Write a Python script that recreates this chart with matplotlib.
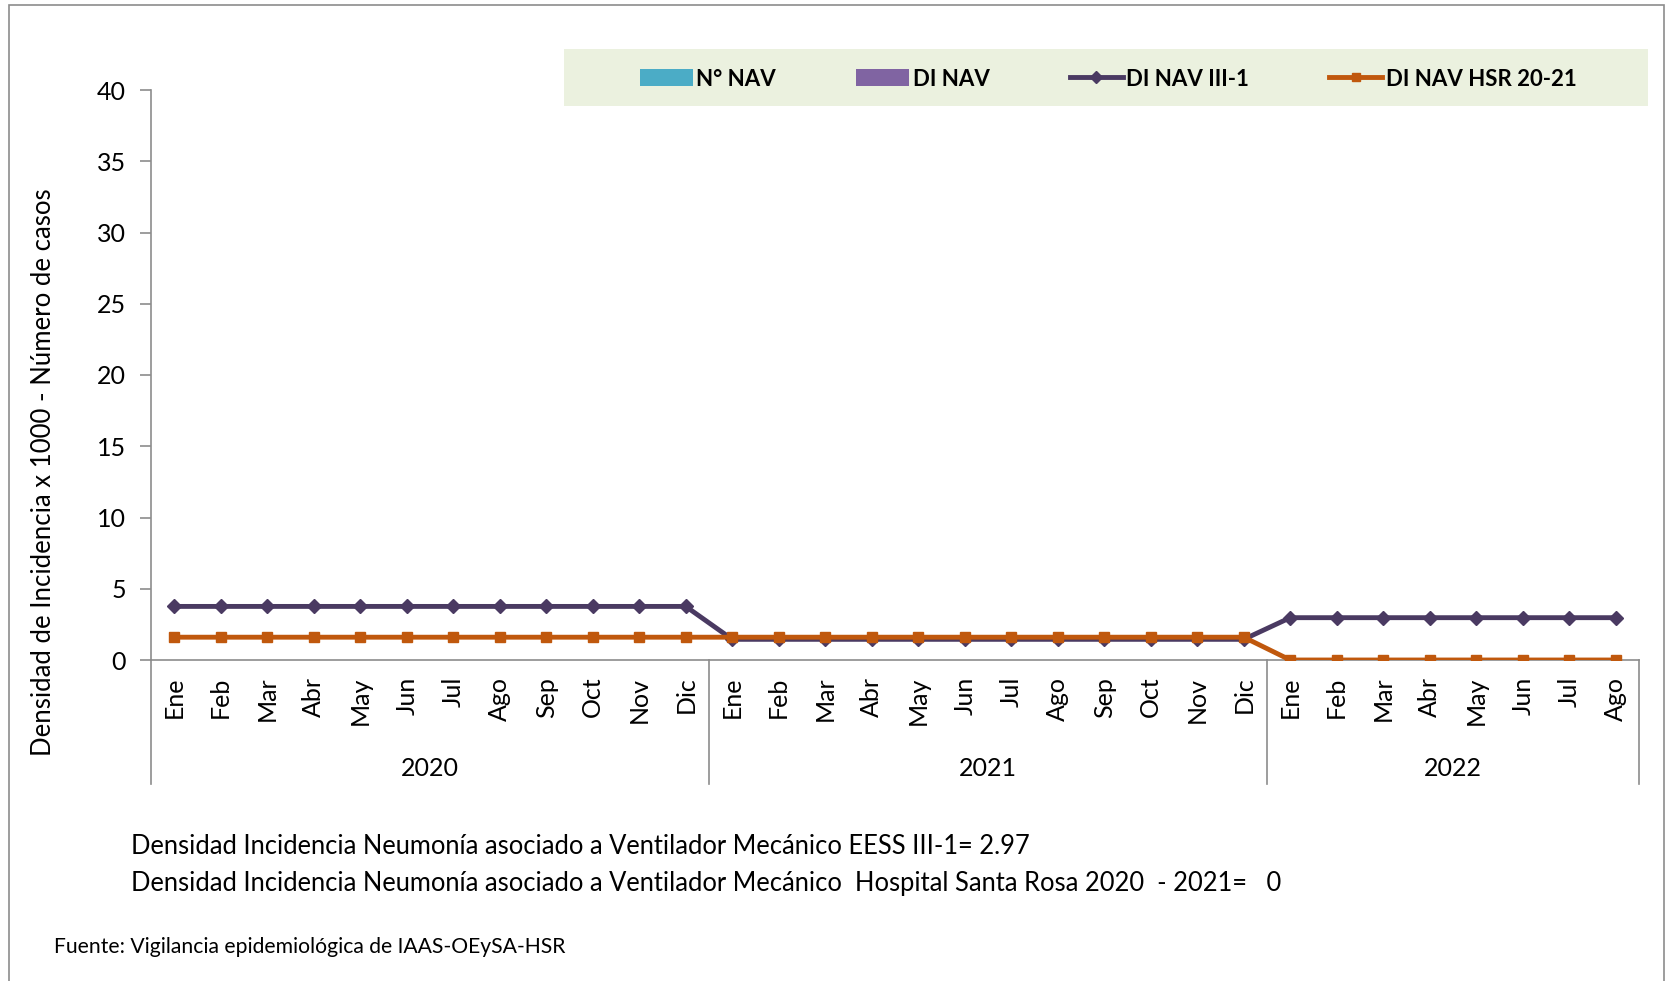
import numpy as np
import matplotlib.pyplot as plt
from matplotlib.patches import Rectangle, Patch
from matplotlib.lines import Line2D

plt.rcParams['font.family'] = ['Lato', 'DejaVu Sans']

# Data
meses = ['Ene', 'Feb', 'Mar', 'Abr', 'May', 'Jun', 'Jul', 'Ago', 'Sep', 'Oct', 'Nov', 'Dic',
         'Ene', 'Feb', 'Mar', 'Abr', 'May', 'Jun', 'Jul', 'Ago', 'Sep', 'Oct', 'Nov', 'Dic',
         'Ene', 'Feb', 'Mar', 'Abr', 'May', 'Jun', 'Jul', 'Ago']
anios = ['2020', '2021', '2022']
meses_por_anio = [12, 12, 8]
di_nav_iii1 = [3.76] * 12 + [1.45] * 12 + [2.97] * 8
di_nav_hsr = [1.6] * 12 + [1.6] * 12 + [0.0] * 8

W, H = 1680, 981
fig = plt.figure(figsize=(W / 100, H / 100), dpi=100)

# outer chart border
fig.patches.append(Rectangle((9 / W, -0.01), (1664 - 9) / W, 1 - 5 / H + 0.01,
                             transform=fig.transFigure, fill=False,
                             edgecolor='#8c8c8c', linewidth=1.2))

ax = fig.add_axes([151 / W, 1 - 660 / H, (1639 - 151) / W, (660 - 90) / H])
x = np.arange(len(meses))

purple = '#4a3a62'
orange = '#c0580d'
ax.plot(x, di_nav_iii1, color=purple, linewidth=3.5, marker='D', markersize=7.5, zorder=3)
ax.plot(x, di_nav_hsr, color=orange, linewidth=3.5, marker='s', markersize=7.5, zorder=3)

ax.set_xlim(-0.5, len(meses) - 0.5)
ax.set_ylim(0, 40)
ax.set_yticks(range(0, 41, 5))
ax.tick_params(axis='y', labelsize=18, length=8, width=1.2, color='#8c8c8c', pad=10)
ax.set_xticks(x)
ax.set_xticklabels(meses, rotation=90, fontsize=18)
ax.tick_params(axis='x', length=0, pad=12)

for s in ['top', 'right']:
    ax.spines[s].set_visible(False)
for s in ['left', 'bottom']:
    ax.spines[s].set_color('#8c8c8c')
    ax.spines[s].set_linewidth(1.2)

# year level of the category axis
trans = ax.get_xaxis_transform()
inicio = -0.5
for anio, n in zip(anios, meses_por_anio):
    ax.plot([inicio, inicio], [0, -0.2175], transform=trans, color='#8c8c8c',
            linewidth=1.2, clip_on=False)
    ax.text(inicio + n / 2, -0.19, anio, transform=trans, ha='center', va='center', fontsize=18)
    inicio += n
ax.plot([inicio, inicio], [0, -0.2175], transform=trans, color='#8c8c8c',
        linewidth=1.2, clip_on=False)

ax.set_ylabel('Densidad de Incidencia x 1000 - Número de casos', fontsize=18.5)
ax.yaxis.set_label_coords(-0.064, 0.33)

# legend
fig.patches.append(Rectangle((564 / W, 1 - 106 / H), (1648 - 564) / W, 57 / H,
                             transform=fig.transFigure, facecolor='#ebf1df',
                             edgecolor='none', zorder=0))
handles = [Patch(facecolor='#4bacc6', edgecolor='none'),
           Patch(facecolor='#8064a2', edgecolor='none'),
           Line2D([], [], color=purple, linewidth=3.5, marker='D', markersize=6),
           Line2D([], [], color=orange, linewidth=3.5, marker='s', markersize=6)]
labels = ['N° NAV', 'DI NAV', 'DI NAV III-1', 'DI NAV HSR 20-21']
fig.legend(handles, labels, loc='center', bbox_to_anchor=(1108 / W, 1 - 79 / H),
           ncol=4, frameon=False, prop={'weight': 'bold', 'size': 16},
           handlelength=2.4, handleheight=0.8, handletextpad=0.15, columnspacing=3.6)

fig.text(131 / W, 1 - 847 / H,
         'Densidad Incidencia Neumonía asociado a Ventilador Mecánico EESS III-1= 2.97',
         fontsize=18.4, va='center', ha='left')
fig.text(131 / W, 1 - 883 / H,
         'Densidad Incidencia Neumonía asociado a Ventilador Mecánico  Hospital Santa Rosa 2020  - 2021=   0',
         fontsize=18.4, va='center', ha='left')
fig.text(54 / W, 1 - 947 / H, 'Fuente: Vigilancia epidemiológica de IAAS-OEySA-HSR',
         fontsize=15.2, va='center', ha='left')

fig.savefig('out.png', dpi=100)
